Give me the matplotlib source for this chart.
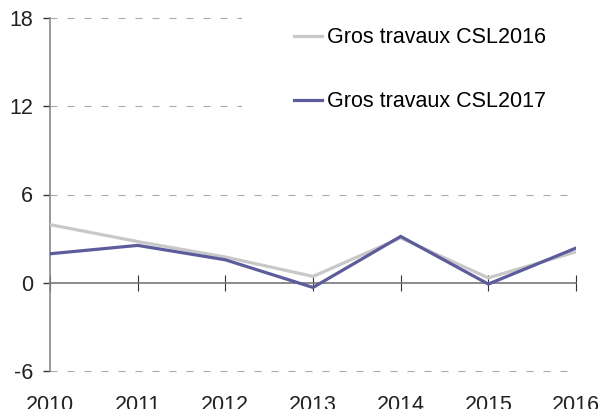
import matplotlib
matplotlib.use("Agg")
import matplotlib.pyplot as plt

years = [2010, 2011, 2012, 2013, 2014, 2015, 2016]
csl2016 = [3.95, 2.8, 1.75, 0.43, 3.05, 0.33, 2.1]
csl2017 = [1.97, 2.54, 1.56, -0.32, 3.15, -0.09, 2.36]
labels = ["Gros travaux CSL2016", "Gros travaux CSL2017"]
yticks = [-6, 0, 6, 12, 18]

plt.rcParams['font.family'] = ['Liberation Sans', 'DejaVu Sans']
plt.rcParams['font.size'] = 15.5
plt.rcParams['axes.unicode_minus'] = False

fig = plt.figure(figsize=(6.01, 4.09), dpi=100)
ax = fig.add_axes([50/601, (409-371)/409, 526/601, 353/409])

ax.set_xlim(years[0], years[-1])
ax.set_ylim(yticks[0], yticks[-1])

for yv in yticks:
    if yv != 0:
        ax.axhline(yv, color='#aaaaaa', lw=0.8, dashes=(6.3, 9), zorder=1,
                   clip_on=False)

ax.plot(years, csl2016, color='#c8c8c8', lw=2.3, label=labels[0], zorder=3,
        solid_joinstyle='miter')
ax.plot(years, csl2017, color='#5c5c9c', lw=2.3, label=labels[1], zorder=4,
        solid_joinstyle='miter')

for s in ['top', 'right']:
    ax.spines[s].set_visible(False)
ax.spines['bottom'].set_position(('data', 0))
ax.spines['bottom'].set_color('#777777')
ax.spines['left'].set_color('#888888')
ax.spines['bottom'].set_linewidth(1.2)
ax.spines['left'].set_linewidth(1.2)

ax.set_yticks(yticks)
ax.set_xticks(years)
ax.tick_params(axis='y', direction='out', length=5, width=1, color='#333333',
               pad=7, labelcolor='#222222')
ax.tick_params(axis='x', direction='inout', length=11, width=0.8, color='#333333',
               pad=75, labelcolor='#222222')

leg = ax.legend(loc='upper left', bbox_to_anchor=(0.345, 1.151), frameon=True,
                facecolor='white', edgecolor='none', framealpha=1,
                borderpad=2.4, handlelength=1.3, handletextpad=0.25,
                labelspacing=2.0, fancybox=False)
leg.set_zorder(5)

fig.savefig("out.png", dpi=100)
